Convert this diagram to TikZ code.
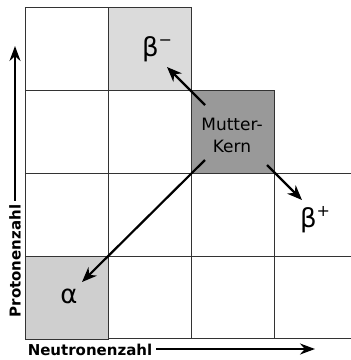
\documentclass[tikz,border=0pt]{standalone}
\usepackage{fontspec}
\setmainfont{DejaVu Sans}
\usetikzlibrary{arrows.meta}

\begin{document}
\begin{tikzpicture}[x=1pt, y=-1pt,
  cell/.style={draw=black!80, line width=0.9pt, minimum size=83pt, inner sep=0pt, anchor=north west},
  decay/.style={-{Stealth[length=15pt, width=12pt]}, line width=2.2pt},
  axis/.style={-{Stealth[length=15pt, width=11pt]}, line width=2.2pt},
  sym/.style={font=\fontsize{26}{26}\selectfont, inner sep=0pt},
  lbl/.style={font=\bfseries\fontsize{15}{15}\selectfont, inner sep=0pt}]
  \useasboundingbox (0,0) rectangle (351,360);
  % staircase grid
  \draw[black!80, line width=0.9pt]
    (25,7) -- (191,7) (25,90) -- (274,90) (25,173) -- (351,173) (25,256) -- (351,256) (25,338) -- (351,338)
    (25,7) -- (25,338) (108,7) -- (108,338) (191,7) -- (191,338) (274,90) -- (274,338);
  % special cells
  \node[cell, fill=black!14] (bm) at (108,7) {};
  \node[cell, fill=black!40] (mk) at (191,90) {};
  \node[cell, fill=black!19] (al) at (25,256) {};
  \node[font=\fontsize{17}{22}\selectfont, align=center] (mktext) at (232,135) {Mutter-\\Kern};
  \node[sym] (bmtext) at (157,49) {β\raisebox{0.42em}{\fontsize{16}{16}\selectfont −}};
  \node[sym] (bptext) at (315,220) {β\raisebox{0.42em}{\fontsize{16}{16}\selectfont +}};
  \node[sym] (altext) at (69,296) {α};
  % decays
  \coordinate (mkbm) at (205,105);
  \coordinate (mkbp) at (267,165);
  \coordinate (mkal) at (205,160);
  \coordinate (bmtip) at (167,67);
  \coordinate (bptip) at (302,200);
  \coordinate (altip) at (82,282);
  \draw[decay] (mkbm) -- (bmtip);
  \draw[decay] (mkbp) -- (bptip);
  \draw[decay] (mkal) -- (altip);
  % axes
  \node[lbl, rotate=90] (pz) at (15,261) {Protonenzahl};
  \node[lbl] (nz) at (90,350) {Neutronenzahl};
  \coordinate (pzend) at (15,46);
  \coordinate (nzend) at (315,349);
  \draw[axis] (pz.east) ++(0,-4) -- (pzend);
  \draw[axis] (nz.east) ++(4,-1) -- (nzend);
\end{tikzpicture}
\end{document}
